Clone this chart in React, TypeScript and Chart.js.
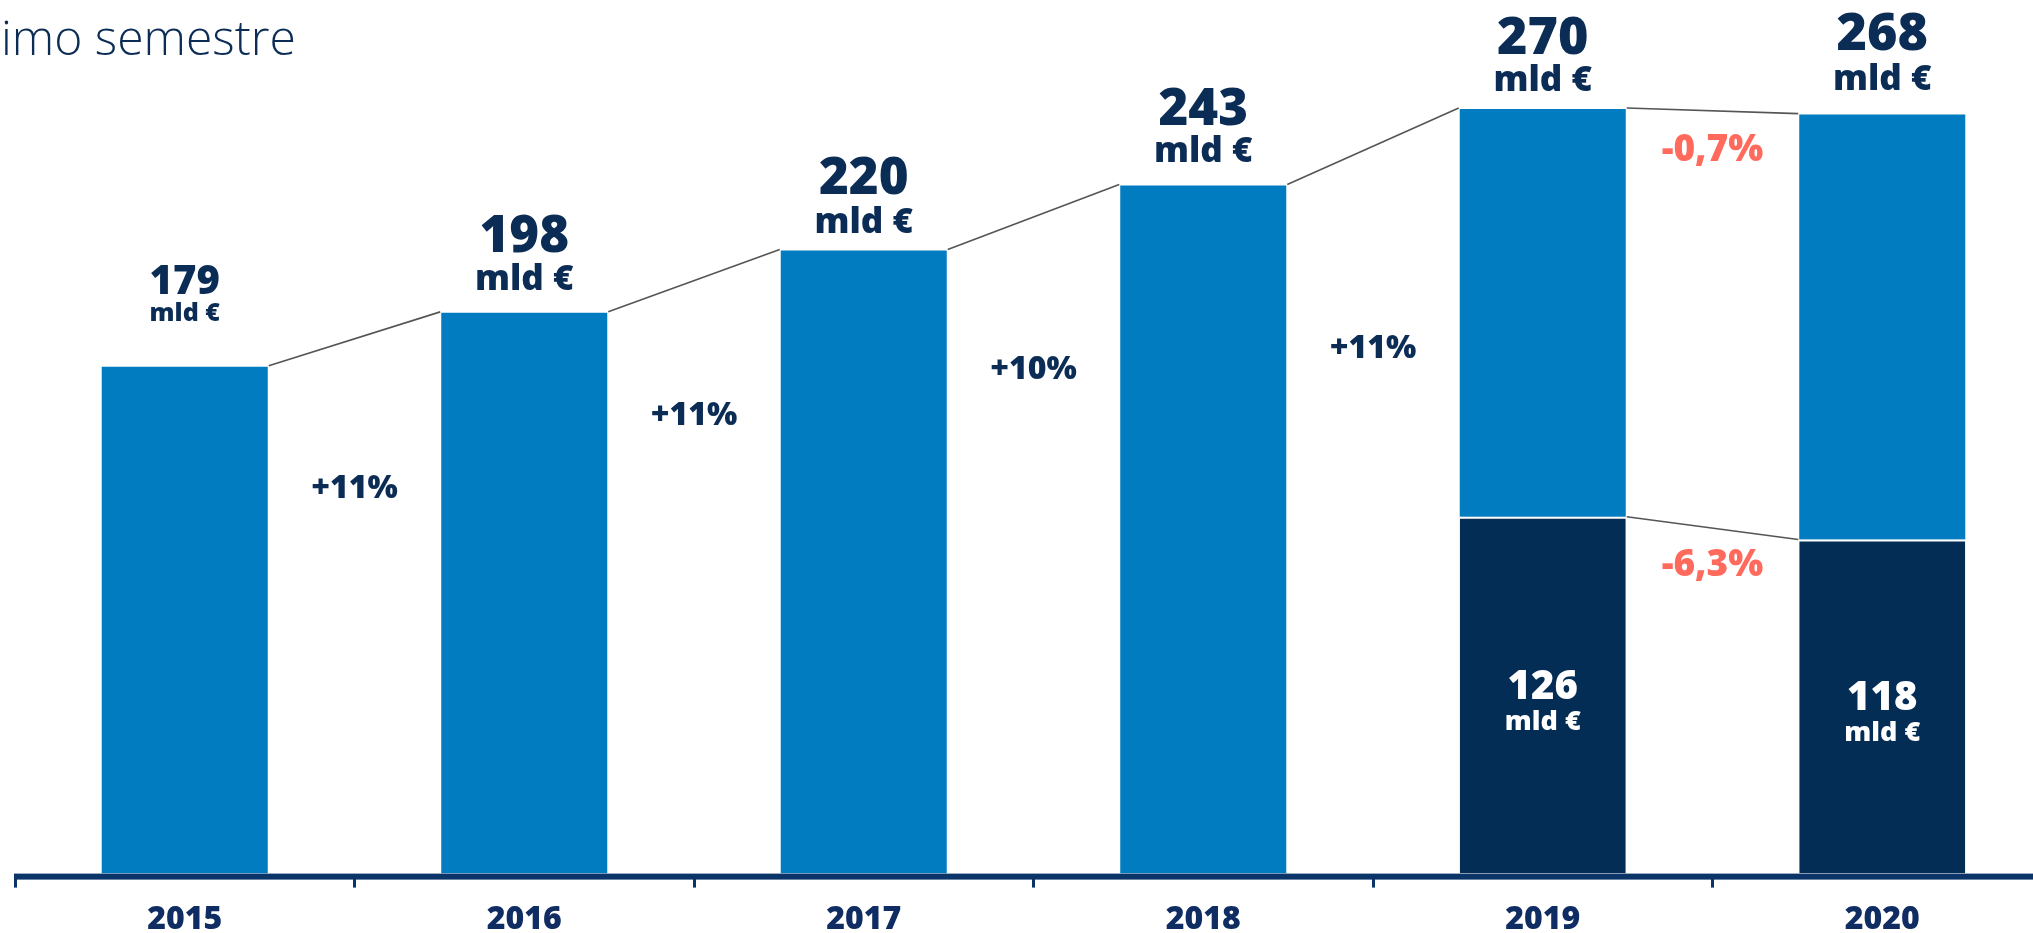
import React, { useEffect, useRef } from 'react';
import { Chart, registerables } from 'chart.js';

Chart.register(...registerables);

// ---- data ----
const years = ['2015', '2016', '2017', '2018', '2019', '2020'];
const totalValues = [179, 198, 220, 243, 270, 268];
const firstHalfValues: (number | null)[] = [null, null, null, null, 126, 118];
const totalChanges = ['+11%', '+11%', '+10%', '+11%', '-0,7%'];
const firstHalfChange = '-6,3%';
const unitLabel = 'mld €';
const titleText = 'imo semestre';

// annotation anchor heights (in value units) for the change labels
const totalChangeAnchor = [135.7, 161.5, 177.8, 185.2, 255.4];
const firstHalfChangeAnchor = 108.9;

// ---- styles ----
const FONT = '"Open Sans", "Noto Sans", sans-serif';
const NAVY = '#0b2c55';
const TICK_NAVY = '#0f2d62';
const AXIS = '#0b3468';
const LIGHT = '#027cc0';
const DARK = '#032d55';
const CORAL = '#ff6a5c';
const CONNECTOR = '#555555';

const numberFontSize = [40, 51, 51, 51, 52, 52];
const unitFontSize = [25, 35, 35, 35, 35, 35];
const numberOffset = [84, 75, 71, 75, 70, 79];
const unitOffset = [53, 33, 28, 33, 28, 35];

const remainderValues = totalValues.map((t, i) => {
  const f = firstHalfValues[i];
  return f == null ? t : t - f;
});

const annotationPlugin = {
  id: 'annotations',
  afterDatasetsDraw(chart: any) {
    const ctx: CanvasRenderingContext2D = chart.ctx;
    const xs = chart.scales.x;
    const ys = chart.scales.y;
    const area = chart.chartArea;
    const topMeta = chart.getDatasetMeta(1);

    const bars = topMeta.data.map((el: any, i: number) => {
      const w = el.width;
      return {
        cx: el.x,
        left: el.x - w / 2,
        right: el.x + w / 2,
        top: ys.getPixelForValue(totalValues[i]),
      };
    });

    ctx.save();

    // axis line
    ctx.fillStyle = AXIS;
    ctx.fillRect(area.left - 1, area.bottom, chart.width, 6);

    // connector lines (totals)
    ctx.strokeStyle = CONNECTOR;
    ctx.lineWidth = 1.6;
    for (let i = 0; i < bars.length - 1; i++) {
      ctx.beginPath();
      ctx.moveTo(bars[i].right + 1, bars[i].top - 1);
      ctx.lineTo(bars[i + 1].left - 1, bars[i + 1].top - 1);
      ctx.stroke();
    }
    // connector lines (first half)
    for (let i = 0; i < bars.length - 1; i++) {
      const a = firstHalfValues[i];
      const b = firstHalfValues[i + 1];
      if (a == null || b == null) continue;
      ctx.beginPath();
      ctx.moveTo(bars[i].right + 1, ys.getPixelForValue(a));
      ctx.lineTo(bars[i + 1].left - 1, ys.getPixelForValue(b));
      ctx.stroke();
    }

    // value labels above bars
    ctx.textAlign = 'center';
    ctx.textBaseline = 'middle';
    ctx.fillStyle = NAVY;
    bars.forEach((b: any, i: number) => {
      ctx.font = `800 ${numberFontSize[i]}px ${FONT}`;
      ctx.fillText(String(totalValues[i]), b.cx, b.top - numberOffset[i]);
      ctx.font = `800 ${unitFontSize[i]}px ${FONT}`;
      ctx.fillText(unitLabel, b.cx, b.top - unitOffset[i]);
    });

    // first half labels inside dark bars
    ctx.fillStyle = '#ffffff';
    bars.forEach((b: any, i: number) => {
      const f = firstHalfValues[i];
      if (f == null) return;
      const mid = (ys.getPixelForValue(f) + ys.getPixelForValue(0)) / 2;
      ctx.font = `800 40px ${FONT}`;
      ctx.fillText(String(f), b.cx, mid - 8);
      ctx.font = `800 27px ${FONT}`;
      ctx.fillText(unitLabel, b.cx, mid + 27);
    });

    // change labels
    totalChanges.forEach((t, i) => {
      const x = (xs.getPixelForValue(i) + xs.getPixelForValue(i + 1)) / 2;
      const y = ys.getPixelForValue(totalChangeAnchor[i]);
      const neg = t.startsWith('-');
      ctx.font = `800 ${neg ? 37 : 32}px ${FONT}`;
      ctx.fillStyle = neg ? CORAL : NAVY;
      ctx.fillText(t, x, y);
    });
    {
      const x = (xs.getPixelForValue(4) + xs.getPixelForValue(5)) / 2;
      ctx.font = `800 37px ${FONT}`;
      ctx.fillStyle = CORAL;
      ctx.fillText(firstHalfChange, x, ys.getPixelForValue(firstHalfChangeAnchor));
    }

    // title fragment
    ctx.textAlign = 'left';
    ctx.textBaseline = 'alphabetic';
    ctx.fillStyle = NAVY;
    ctx.font = `300 48px ${FONT}`;
    ctx.fillText(titleText, 1, 55);

    ctx.restore();
  },
};

export default function App() {
  const ref = useRef<HTMLCanvasElement | null>(null);

  useEffect(() => {
    if (!ref.current) return;
    const chart = new Chart(ref.current, {
      type: 'bar',
      data: {
        labels: years,
        datasets: [
          {
            label: 'Primo semestre',
            data: firstHalfValues as any,
            backgroundColor: DARK,
            borderColor: '#ffffff',
            borderWidth: { top: 2, left: 0, right: 0, bottom: 0 } as any,
            borderSkipped: false,
            categoryPercentage: 1,
            barPercentage: 0.489,
            stack: 's',
          },
          {
            label: 'Totale',
            data: remainderValues,
            backgroundColor: LIGHT,
            borderWidth: 0,
            categoryPercentage: 1,
            barPercentage: 0.489,
            stack: 's',
          },
        ],
      },
      options: {
        responsive: false,
        animation: false,
        devicePixelRatio: 1,
        layout: { padding: { left: 15, right: 0, top: 24, bottom: 0 } },
        plugins: {
          legend: { display: false },
          tooltip: { enabled: false },
          title: { display: false },
        },
        scales: {
          x: {
            stacked: true,
            offset: true,
            border: { display: false },
            grid: {
              display: true,
              offset: true,
              drawOnChartArea: false,
              drawTicks: true,
              tickLength: 14,
              tickWidth: 3,
              tickColor: AXIS,
            },
            ticks: {
              color: TICK_NAVY,
              padding: 13,
              font: { family: FONT, size: 32, weight: 800 as any },
            },
          },
          y: {
            stacked: true,
            display: false,
            min: 0,
            max: 300,
          },
        },
      },
      plugins: [annotationPlugin],
    });
    return () => chart.destroy();
  }, []);

  return (
    <div
      style={{
        position: 'fixed',
        left: 0,
        top: 0,
        width: 2033,
        height: 933,
        overflow: 'hidden',
        background: '#ffffff',
      }}
    >
      <canvas ref={ref} width={2052} height={952} style={{ display: 'block', width: 2052, height: 952 }} />
    </div>
  );
}
